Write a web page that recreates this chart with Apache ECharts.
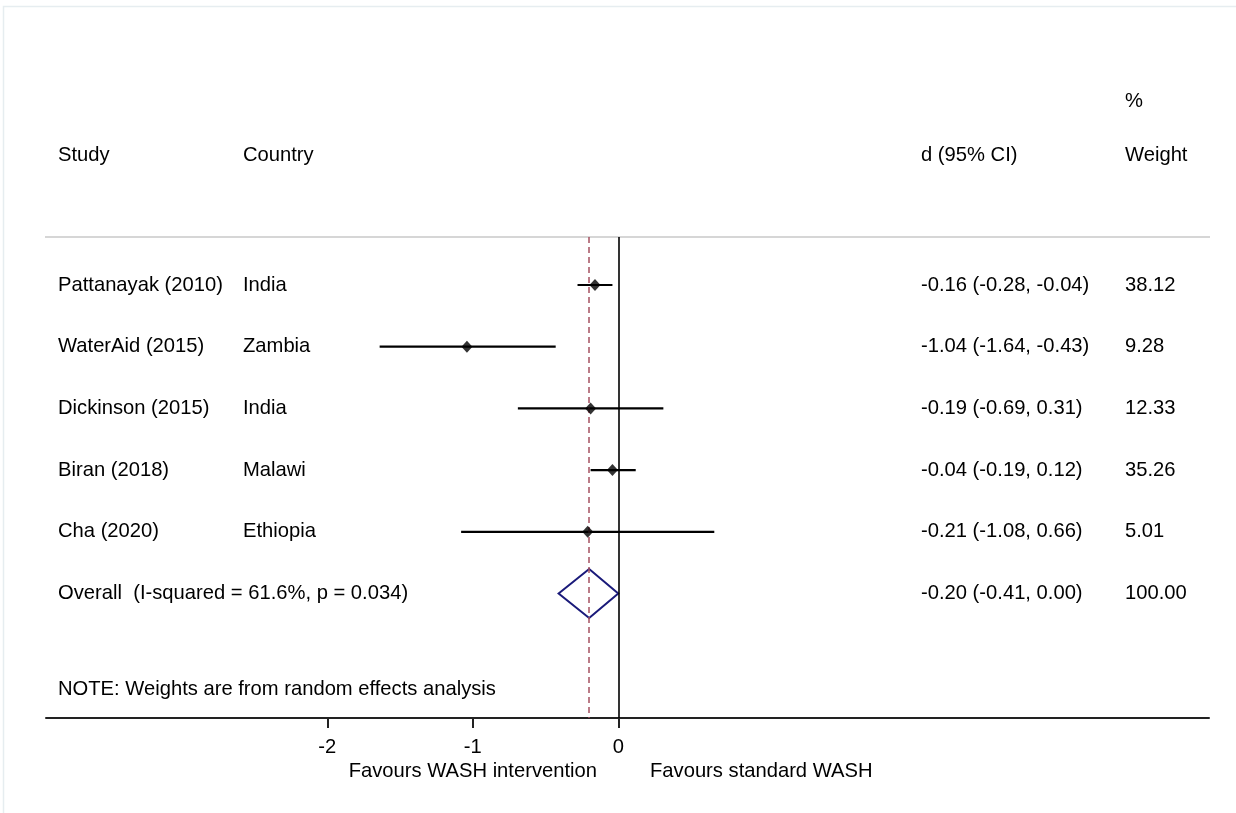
<!DOCTYPE html>
<html>
<head>
<meta charset="utf-8">
<script src="https://cdn.jsdelivr.net/npm/echarts@6/dist/echarts.min.js"></script>
<style>
html,body{margin:0;padding:0;background:#fff;}
#chart{width:1236px;height:813px;}
</style>
</head>
<body>
<div id="chart"></div>
<script>
// ---- data ----
const studies = ['Pattanayak (2010)', 'WaterAid (2015)', 'Dickinson (2015)', 'Biran (2018)', 'Cha (2020)'];
const countries = ['India', 'Zambia', 'India', 'Malawi', 'Ethiopia'];
const est = [-0.16, -1.04, -0.19, -0.04, -0.21];
const lo = [-0.28, -1.64, -0.69, -0.19, -1.08];
const hi = [-0.04, -0.43, 0.31, 0.12, 0.66];
const weights = ['38.12', '9.28', '12.33', '35.26', '5.01'];
const overall = { est: -0.20, lo: -0.41, hi: 0.00, weight: '100.00' };
const overallLabel = 'Overall  (I-squared = 61.6%, p = 0.034)';
const noteLabel = 'NOTE: Weights are from random effects analysis';
const tickValues = [-2, -1, 0];
const leftFavour = 'Favours WASH intervention';
const rightFavour = 'Favours standard WASH';

// ---- layout ----
const W = 1236, H = 813;
const GL = 46, GR = 27, GT = 237, GB = 95;
const X_MIN = -3.933, X_MAX = 4.06;
const Y_MIN = -0.778, Y_MAX = 7.018;
const FS = 20.2;
const FONT = 'Liberation Sans, Arial, sans-serif';
const COL = { study: 58, country: 243, ci: 921, weight: 1125 };

const fmt = v => v.toFixed(2);
const ciText = (e, l, h) => `${fmt(e)} (${fmt(l)}, ${fmt(h)})`;

const rows = studies.map((s, i) => ({
  idx: i, study: s, country: countries[i],
  ci: ciText(est[i], lo[i], hi[i]), weight: weights[i]
}));
const overallIdx = studies.length;
const noteIdx = studies.length + 1.55;

const chart = echarts.init(document.getElementById('chart'), null, { renderer: 'canvas' });

const textStyle = (txt, x, y, align) => ({
  type: 'text', x: x, y: y,
  style: { text: txt, fill: '#000', font: `${FS}px ${FONT}`, textAlign: align || 'left', textVerticalAlign: 'middle' }
});

chart.setOption({
  animation: false,
  backgroundColor: '#fff',
  grid: { left: GL, right: GR, top: GT, bottom: GB, containLabel: false },
  xAxis: {
    type: 'value', min: X_MIN, max: X_MAX,
    splitLine: { show: false },
    axisLine: { show: true, onZero: false, lineStyle: { color: '#222', width: 2 } },
    axisTick: { show: true, length: 10, customValues: tickValues, lineStyle: { color: '#222', width: 2 } },
    axisLabel: { show: true, customValues: tickValues, margin: 19, color: '#000', fontSize: FS, fontFamily: FONT,
      formatter: v => String(v) }
  },
  yAxis: {
    type: 'value', min: Y_MIN, max: Y_MAX, inverse: true, show: false,
    splitLine: { show: false }
  },
  series: [
    // reference lines
    {
      type: 'line', data: [], silent: true,
      markLine: {
        silent: true, symbol: 'none', label: { show: false },
        data: [
          { xAxis: 0, lineStyle: { color: '#000', width: 1.6, type: 'solid' } },
          { xAxis: overall.est, lineStyle: { color: '#a55060', width: 1.5, type: [6, 4] } }
        ]
      }
    },
    // CI lines
    {
      type: 'custom', silent: true,
      data: rows.map(r => [lo[r.idx], hi[r.idx], r.idx]),
      renderItem: (params, api) => {
        const a = api.coord([api.value(0), api.value(2)]);
        const b = api.coord([api.value(1), api.value(2)]);
        return { type: 'line', shape: { x1: a[0], y1: a[1], x2: b[0], y2: b[1] },
          style: { stroke: '#000', lineWidth: 2.2 } };
      }
    },
    // point estimates
    {
      type: 'scatter', silent: true, symbol: 'diamond', symbolSize: [11, 12],
      itemStyle: { color: '#000' },
      data: rows.map(r => [est[r.idx], r.idx]), z: 5
    },
    // overall diamond
    {
      type: 'custom', silent: true,
      data: [[overall.lo, overall.est, overall.hi, overallIdx]],
      renderItem: (params, api) => {
        const y = api.value(3);
        const l = api.coord([api.value(0), y]);
        const c = api.coord([api.value(1), y]);
        const r = api.coord([api.value(2), y]);
        const hh = 24.5;
        return { type: 'polygon', shape: { points: [[l[0], l[1]], [c[0], c[1] - hh], [r[0], r[1]], [c[0], c[1] + hh]] },
          style: { fill: 'none', stroke: '#1a1a7a', lineWidth: 2 } };
      }
    },
    // table text
    {
      type: 'custom', silent: true, clip: false,
      data: rows.map(r => [r.idx]).concat([[overallIdx], [noteIdx]]),
      renderItem: (params, api) => {
        const i = params.dataIndex;
        const yv = api.value(0);
        const y = api.coord([0, yv])[1];
        const children = [];
        if (i < rows.length) {
          const r = rows[i];
          children.push(textStyle(r.study, COL.study, y));
          children.push(textStyle(r.country, COL.country, y));
          children.push(textStyle(r.ci, COL.ci, y));
          children.push(textStyle(r.weight, COL.weight, y));
        } else if (i === rows.length) {
          children.push(textStyle(overallLabel, COL.study, y));
          children.push(textStyle(ciText(overall.est, overall.lo, overall.hi), COL.ci, y));
          children.push(textStyle(overall.weight, COL.weight, y));
        } else {
          children.push(textStyle(noteLabel, COL.study, y));
        }
        return { type: 'group', children: children };
      }
    }
  ],
  graphic: [
    { type: 'polyline', shape: { points: [[3.5, H], [3.5, 6.5], [W, 6.5]] }, style: { stroke: '#e6edf0', lineWidth: 1.5, fill: null }, silent: true },
    { type: 'line', shape: { x1: GL - 1, y1: GT, x2: W - GR + 1, y2: GT }, style: { stroke: '#c8c8c8', lineWidth: 1.5 }, silent: true },
    textStyle('%', COL.weight, 101),
    textStyle('Study', COL.study, 155),
    textStyle('Country', COL.country, 155),
    textStyle('d (95% CI)', COL.ci, 155),
    textStyle('Weight', COL.weight, 155),
    textStyle(leftFavour, 597, 771, 'right'),
    textStyle(rightFavour, 650, 771, 'left')
  ]
});
</script>
</body>
</html>
